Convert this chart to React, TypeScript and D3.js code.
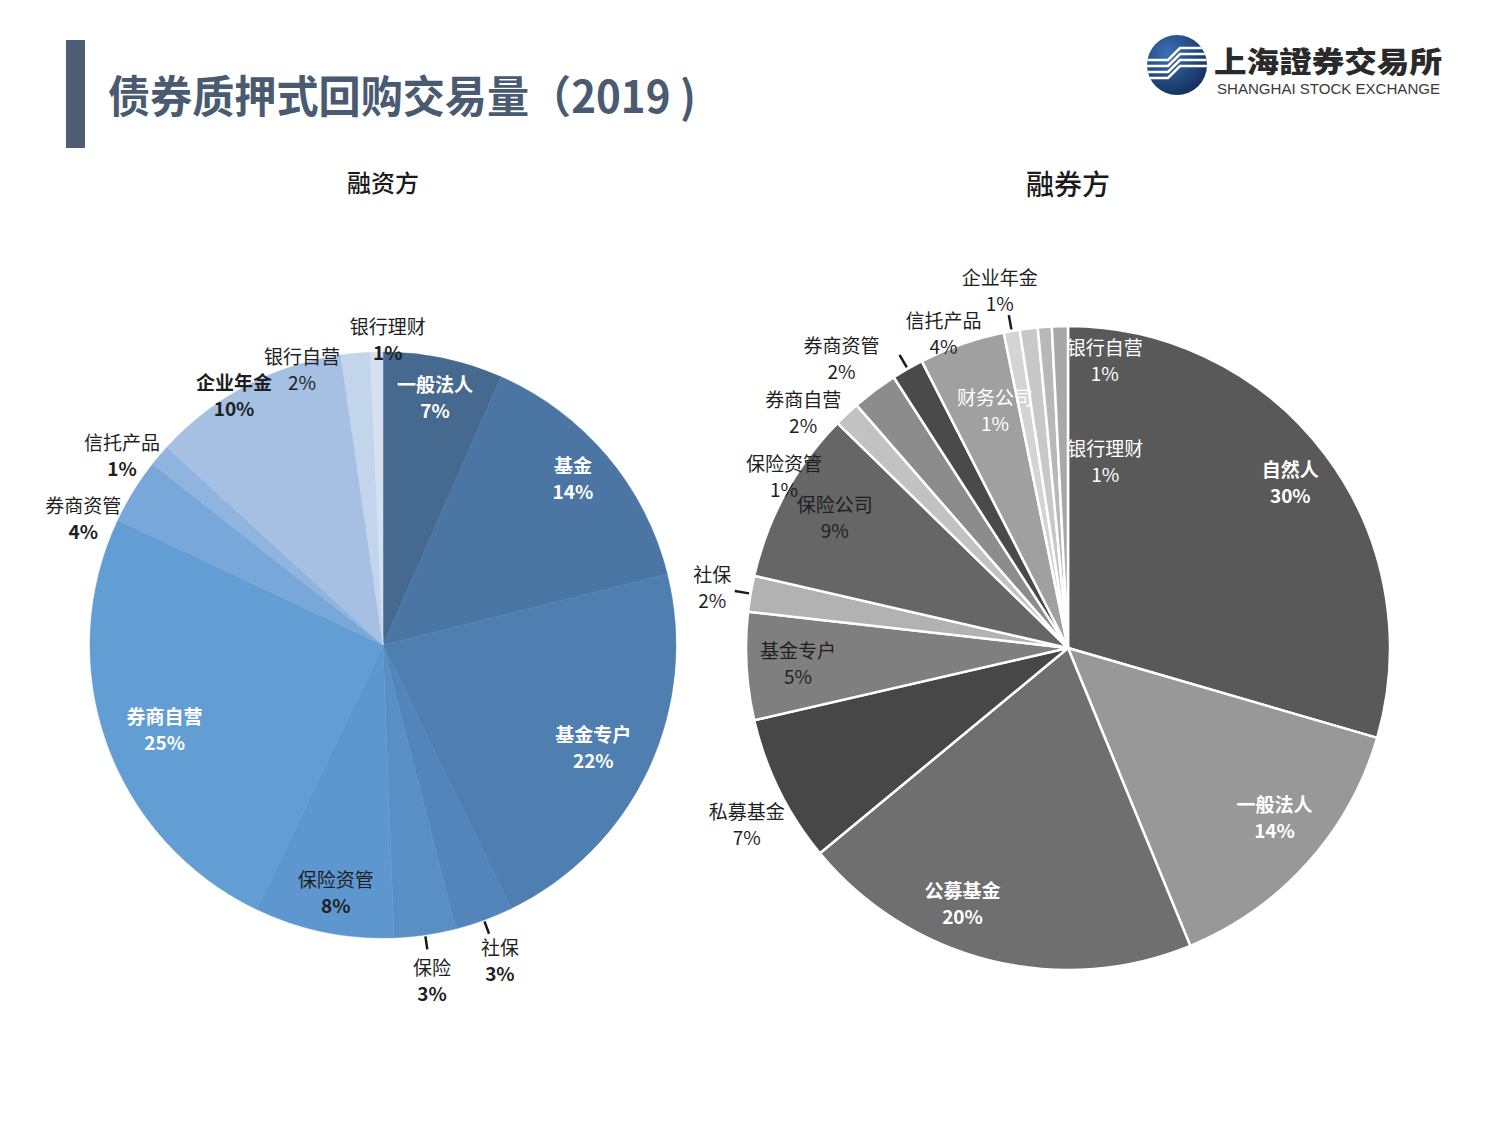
import React from 'react';
import * as d3 from 'd3';

// 融资方 (financing side)
const leftNames = ['一般法人', '基金', '基金专户', '社保', '保险', '保险资管', '券商自营', '券商资管', '信托产品', '企业年金', '银行自营', '银行理财'];
const leftValues = [6.6, 14.5, 21.7, 3.2, 3.4, 7.7, 24.9, 3.6, 1.2, 10.9, 1.6, 0.7];
const leftPct = ['7%', '14%', '22%', '3%', '3%', '8%', '25%', '4%', '1%', '10%', '2%', '1%'];
const leftColors = ['#45698f', '#4b76a3', '#4f7fb0', '#5385bb', '#5a8fc6', '#5e97cf', '#629dd4', '#78a8da', '#8fb4de', '#a5c0e2', '#c2d5ea', '#d5e1f0'];

// 融券方 (lending side)
const rightNames = ['自然人', '一般法人', '公募基金', '私募基金', '基金专户', '社保', '保险公司', '保险资管', '券商自营', '券商资管', '信托产品', '企业年金', '财务公司', '银行理财', '银行自营'];
const rightValues = [29.5, 14.3, 20.2, 7.4, 5.4, 1.8, 8.7, 1.3, 2.3, 1.6, 4.3, 0.8, 0.9, 0.7, 0.8];
const rightPct = ['30%', '14%', '20%', '7%', '5%', '2%', '9%', '1%', '2%', '2%', '4%', '1%', '1%', '1%', '1%'];
const rightColors = ['#595959', '#989898', '#6f6f6f', '#474747', '#7f7f7f', '#b2b2b2', '#666666', '#c2c2c2', '#8c8c8c', '#4a4a4a', '#a0a0a0', '#d4d4d4', '#c8c8c8', '#b8b8b8', '#a8a8a8'];

// label layout: [angle in degrees clockwise from top, radius as fraction of R]
const leftLabelPos = [[11.9, 0.86], [48.9, 0.86], [116.2, 0.8], [159.7, 1.15], [171.7, 1.16], [190.8, 0.86], [248.7, 0.8], [292.8, 1.11], [305.9, 1.1], [329.1, 0.99], [343.6, 0.98], [0.9, 1.04]];
const rightLabelPos = [[53.4, 0.86], [129.4, 0.83], [202.4, 0.86], [241.1, 1.14], [266.6, 0.84], [279.5, 1.12], [299.2, 0.83], [301.1, 1.03], [311.6, 1.1], [321.9, 1.14], [338.4, 1.05], [349.2, 1.13], [342.9, 0.77], [11.3, 0.59], [7.3, 0.9]];

// label style: w = white bold, d = dark regular name / bold pct, D = dark bold both, r = dark regular both, l = white regular
const leftLabelStyle = ['w', 'w', 'w', 'd', 'd', 'd', 'w', 'd', 'd', 'D', 'r', 'd'];
const rightLabelStyle = ['w', 'w', 'w', 'r', 'r', 'r', 'r', 'r', 'r', 'r', 'r', 'r', 'l', 'l', 'l'];
const leftLeaders = ['社保', '保险'];
const rightLeaders = ['社保', '券商资管', '企业年金'];

const FONT = '"Noto Sans CJK SC", "Noto Sans", sans-serif';

interface PieProps {
  cx: number;
  cy: number;
  r: number;
  names: string[];
  values: number[];
  pct: string[];
  colors: string[];
  labelPos: number[][];
  labelStyle: string[];
  leaders: string[];
  separator: boolean;
}

const Pie: React.FC<PieProps> = ({ cx, cy, r, names, values, pct, colors, labelPos, labelStyle, leaders, separator }) => {
  const pie = d3.pie<number>().sort(null).value(d => d);
  const arcs = pie(values);
  const arc = d3.arc<d3.PieArcDatum<number>>().innerRadius(0).outerRadius(r);
  const polar = (deg: number, rad: number) => {
    const a = (deg * Math.PI) / 180;
    return [rad * Math.sin(a), -rad * Math.cos(a)];
  };

  return (
    <g transform={`translate(${cx},${cy})`}>
      {arcs.map((a, i) => (
        <path
          key={names[i]}
          d={arc(a) || ''}
          fill={colors[i]}
          stroke={separator ? '#fff' : colors[i]}
          strokeWidth={separator ? 2.5 : 0.5}
          strokeLinejoin="round"
        />
      ))}
      {arcs.map((a, i) => {
        if (!leaders.includes(names[i])) return null;
        const mid = ((a.startAngle + a.endAngle) / 2) * 180 / Math.PI;
        const [x1, y1] = polar(mid, r * 1.005);
        const [x2, y2] = polar(mid, r * 1.05);
        return <line key={'ld' + i} x1={x1} y1={y1} x2={x2} y2={y2} stroke="#1a1a1a" strokeWidth={2.5} />;
      })}
      {names.map((n, i) => {
        const [x, y] = polar(labelPos[i][0], labelPos[i][1] * r);
        const s = labelStyle[i];
        const white = s === 'w' || s === 'l';
        const fill = white ? '#ffffff' : '#1f1f1f';
        const nameW = s === 'w' || s === 'D' ? 700 : 400;
        const pctW = s === 'r' || s === 'l' ? 400 : 700;
        return (
          <g key={'lb' + i} fontFamily={FONT} fontSize={19} fill={fill} textAnchor="middle">
            <text x={x} y={y - 6} fontWeight={nameW}>{n}</text>
            <text x={x} y={y + 20} fontWeight={pctW}>{pct[i]}</text>
          </g>
        );
      })}
    </g>
  );
};

const Logo: React.FC = () => {
  const stripes = [0, 1, 2, 3];
  return (
    <g>
      <defs>
        <radialGradient id="logoGrad" cx="35%" cy="30%" r="75%">
          <stop offset="0%" stopColor="#3b6fb3" />
          <stop offset="100%" stopColor="#14305e" />
        </radialGradient>
        <clipPath id="logoClip">
          <circle cx={1177} cy={65} r={30} />
        </clipPath>
      </defs>
      <circle cx={1177} cy={65} r={30} fill="url(#logoGrad)" />
      <g clipPath="url(#logoClip)">
        {stripes.map(k => (
          <path
            key={k}
            d={`M1140,${60 + k * 6} L1168,${60 + k * 6} L1180,${48 + k * 6} L1215,${48 + k * 6}`}
            fill="none"
            stroke="#ffffff"
            strokeWidth={2.6}
          />
        ))}
      </g>
      <text x={1214} y={73} fontFamily='"Noto Sans CJK TC", sans-serif' fontWeight={900} fontSize={29} fill="#2a2a2a" textLength={228} lengthAdjust="spacingAndGlyphs">上海證券交易所</text>
      <text x={1217} y={94} fontFamily='"Liberation Sans", Arial, sans-serif' fontSize={14.5} fill="#3a3a3a" textLength={223} lengthAdjust="spacingAndGlyphs">SHANGHAI STOCK EXCHANGE</text>
    </g>
  );
};

const App: React.FC = () => {
  return (
    <div style={{ position: 'absolute', left: 0, top: 0, width: 1500, height: 1125, background: '#fff' }}>
      <svg width={1500} height={1125} viewBox="0 0 1500 1125">
        <rect x={0} y={0} width={1500} height={1125} fill="#ffffff" />
        <rect x={66} y={40} width={19} height={108} fill="#4e5d73" />
        <text x={108} y={113} fontFamily={FONT} fontWeight={700} fontSize={44} fill="#4a5a70" textLength={588} lengthAdjust="spacingAndGlyphs">债券质押式回购交易量（2019 )</text>
        <Logo />
        <text x={383} y={192} fontFamily={FONT} fontSize={24} fontWeight={500} fill="#1a1a1a" textAnchor="middle">融资方</text>
        <text x={1068} y={195} fontFamily={FONT} fontSize={28} fontWeight={500} fill="#1a1a1a" textAnchor="middle">融券方</text>
        <Pie
          cx={383} cy={645} r={293}
          names={leftNames} values={leftValues} pct={leftPct} colors={leftColors}
          labelPos={leftLabelPos} labelStyle={leftLabelStyle} leaders={leftLeaders} separator={false}
        />
        <Pie
          cx={1068} cy={648} r={322}
          names={rightNames} values={rightValues} pct={rightPct} colors={rightColors}
          labelPos={rightLabelPos} labelStyle={rightLabelStyle} leaders={rightLeaders} separator={true}
        />
      </svg>
    </div>
  );
};

export default App;
